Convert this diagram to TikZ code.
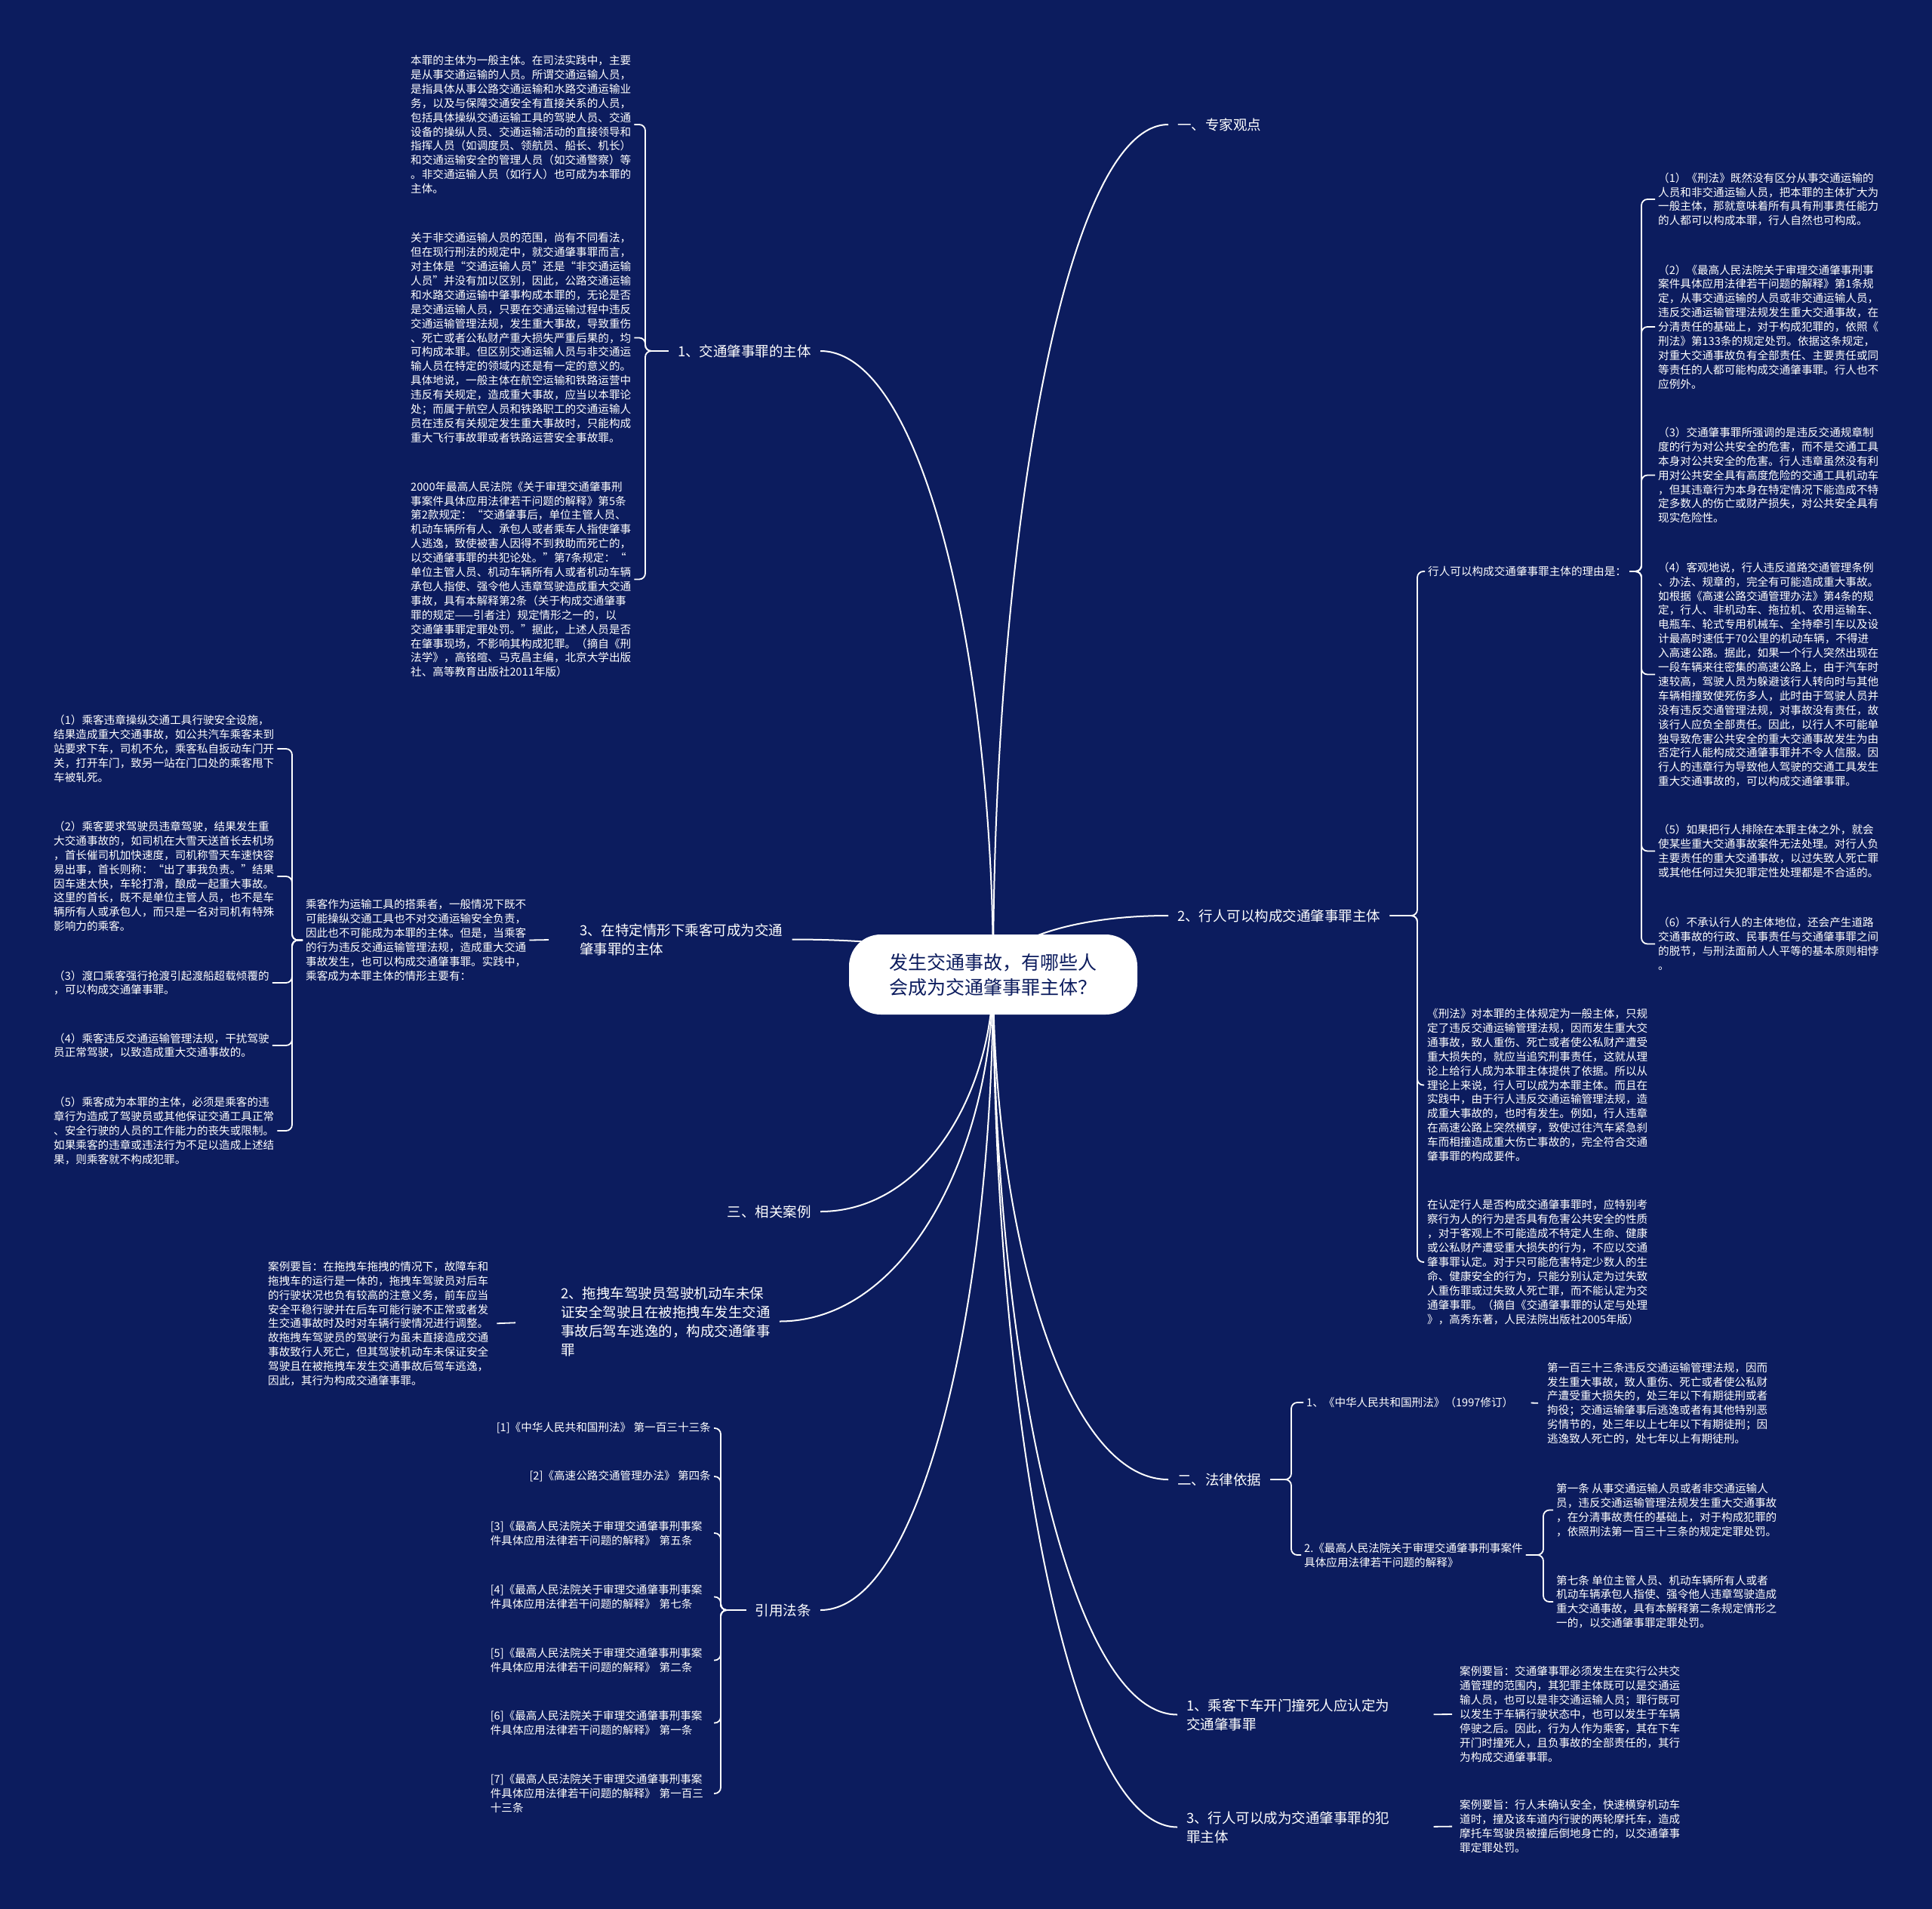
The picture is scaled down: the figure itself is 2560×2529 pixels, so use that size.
\documentclass[tikz,border=0pt]{standalone}
\usepackage{fontspec}
\setmainfont{Noto Sans CJK SC}
\usetikzlibrary{calc}
\definecolor{bgc}{RGB}{12,28,94}
\pgfdeclarelayer{back}
\pgfdeclarelayer{edges}
\pgfsetlayers{back,edges,main}
\tikzset{
  blk/.style={text=white, font=\fontsize{14.6}{18.9}\selectfont, align=left, inner xsep=4pt, inner ysep=2pt},
  brn/.style={text=white, font=\fontsize{18.5}{25}\selectfont, align=left, inner xsep=12pt, inner ysep=3pt},
  rootnode/.style={fill=white, rounded corners=42pt, minimum width=382pt, minimum height=106pt, text=bgc, font=\fontsize{25}{33}\selectfont, align=center},
  mainline/.style={draw=white, line width=2pt},
  brline/.style={draw=white, line width=1.8pt, rounded corners=8pt},
}
\newcommand\mainbr[1]{\draw[mainline] (root.center) .. controls ($(root.center)!0.5!(root.center |- #1)$) and ($(root.center |- #1)!0.4!(#1)$) .. (#1);}
\newcommand\mmbrk[3]{\draw[brline] (#1) -- (#1 -| #2) -- (#2 |- #3) -- (#3);}
\begin{document}
\begin{tikzpicture}[x=1pt,y=-1pt]
\begin{pgfonlayer}{back}
\fill[bgc] (0,0) rectangle (2560,2529);
\end{pgfonlayer}
\useasboundingbox (0,0) rectangle (2560,2529);

% root
\node[rootnode] (root) at (1316,1291) {发生交通事故，有哪些人\\会成为交通肇事罪主体？};

% ---------- left: 1、交通肇事罪的主体
\node[brn, anchor=east] (a1) at (1087,465) {1、交通肇事罪的主体};
\node[blk, anchor=west] (T1) at (540,165) {本罪的主体为一般主体。在司法实践中，主要\\是从事交通运输的人员。所谓交通运输人员，\\是指具体从事公路交通运输和水路交通运输业\\务，以及与保障交通安全有直接关系的人员，\\包括具体操纵交通运输工具的驾驶人员、交通\\设备的操纵人员、交通运输活动的直接领导和\\指挥人员（如调度员、领航员、船长、机长）\\和交通运输安全的管理人员（如交通警察）等\\。非交通运输人员（如行人）也可成为本罪的\\主体。};
\node[blk, anchor=west] (T2) at (540,447.5) {关于非交通运输人员的范围，尚有不同看法，\\但在现行刑法的规定中，就交通肇事罪而言，\\对主体是“交通运输人员”还是“非交通运输\\人员”并没有加以区别，因此，公路交通运输\\和水路交通运输中肇事构成本罪的，无论是否\\是交通运输人员，只要在交通运输过程中违反\\交通运输管理法规，发生重大事故，导致重伤\\、死亡或者公私财产重大损失严重后果的，均\\可构成本罪。但区别交通运输人员与非交通运\\输人员在特定的领域内还是有一定的意义的。\\具体地说，一般主体在航空运输和铁路运营中\\违反有关规定，造成重大事故，应当以本罪论\\处；而属于航空人员和铁路职工的交通运输人\\员在违反有关规定发生重大事故时，只能构成\\重大飞行事故罪或者铁路运营安全事故罪。};
\node[blk, anchor=west] (T3) at (540,767.5) {2000年最高人民法院《关于审理交通肇事刑\\事案件具体应用法律若干问题的解释》第5条\\第2款规定：“交通肇事后，单位主管人员、\\机动车辆所有人、承包人或者乘车人指使肇事\\人逃逸，致使被害人因得不到救助而死亡的，\\以交通肇事罪的共犯论处。”第7条规定：“\\单位主管人员、机动车辆所有人或者机动车辆\\承包人指使、强令他人违章驾驶造成重大交通\\事故，具有本解释第2条（关于构成交通肇事\\罪的规定——引者注）规定情形之一的，以\\交通肇事罪定罪处罚。”据此，上述人员是否\\在肇事现场，不影响其构成犯罪。（摘自《刑\\法学》，高铭暄、马克昌主编，北京大学出版\\社、高等教育出版社2011年版）};
\coordinate (xa1) at (855,0);

% ---------- left: 3、在特定情形下
\node[brn, anchor=west] (a2) at (756,1244.5) {3、在特定情形下乘客可成为交通\\肇事罪的主体};
\node[blk, anchor=west] (L0) at (401,1245.5) {乘客作为运输工具的搭乘者，一般情况下既不\\可能操纵交通工具也不对交通运输安全负责，\\因此也不可能成为本罪的主体。但是，当乘客\\的行为违反交通运输管理法规，造成重大交通\\事故发生，也可以构成交通肇事罪。实践中，\\乘客成为本罪主体的情形主要有：};
\node[blk, anchor=west] (L1) at (67,992) {（1）乘客违章操纵交通工具行驶安全设施，\\结果造成重大交通事故，如公共汽车乘客未到\\站要求下车，司机不允，乘客私自扳动车门开\\关，打开车门，致另一站在门口处的乘客甩下\\车被轧死。};
\node[blk, anchor=west] (L2) at (67,1161) {（2）乘客要求驾驶员违章驾驶，结果发生重\\大交通事故的，如司机在大雪天送首长去机场\\，首长催司机加快速度，司机称雪天车速快容\\易出事，首长则称：“出了事我负责。”结果\\因车速太快，车轮打滑，酿成一起重大事故。\\这里的首长，既不是单位主管人员，也不是车\\辆所有人或承包人，而只是一名对司机有特殊\\影响力的乘客。};
\node[blk, anchor=west] (L3) at (67,1302) {（3）渡口乘客强行抢渡引起渡船超载倾覆的\\，可以构成交通肇事罪。};
\node[blk, anchor=west] (L4) at (67,1385) {（4）乘客违反交通运输管理法规，干扰驾驶\\员正常驾驶，以致造成重大交通事故的。};
\node[blk, anchor=west] (L5) at (67,1498) {（5）乘客成为本罪的主体，必须是乘客的违\\章行为造成了驾驶员或其他保证交通工具正常\\、安全行驶的人员的工作能力的丧失或限制。\\如果乘客的违章或违法行为不足以造成上述结\\果，则乘客就不构成犯罪。};
\coordinate (xL) at (387,0);

% ---------- left: 三、相关案例 / 2、拖拽车
\node[brn, anchor=east] (a3) at (1087,1605) {三、相关案例};
\node[brn, anchor=west] (a4) at (731,1750.5) {2、拖拽车驾驶员驾驶机动车未保\\证安全驾驶且在被拖拽车发生交通\\事故后驾车逃逸的，构成交通肇事\\罪};
\node[blk, anchor=west] (C1) at (351,1753.5) {案例要旨：在拖拽车拖拽的情况下，故障车和\\拖拽车的运行是一体的，拖拽车驾驶员对后车\\的行驶状况也负有较高的注意义务，前车应当\\安全平稳行驶并在后车可能行驶不正常或者发\\生交通事故时及时对车辆行驶情况进行调整。\\故拖拽车驾驶员的驾驶行为虽未直接造成交通\\事故致行人死亡，但其驾驶机动车未保证安全\\驾驶且在被拖拽车发生交通事故后驾车逃逸，\\因此，其行为构成交通肇事罪。};

% ---------- left: 引用法条
\node[brn, anchor=east] (a5) at (1087,2133) {引用法条};
\node[blk, anchor=east] (c1) at (946,1892) {[1]《中华人民共和国刑法》 第一百三十三条};
\node[blk, anchor=east] (c2) at (946,1956) {[2]《高速公路交通管理办法》 第四条};
\node[blk, anchor=east, text width=292pt] (c3) at (946,2031) {[3]《最高人民法院关于审理交通肇事刑事案\\件具体应用法律若干问题的解释》 第五条};
\node[blk, anchor=east, text width=292pt] (c4) at (946,2115.5) {[4]《最高人民法院关于审理交通肇事刑事案\\件具体应用法律若干问题的解释》 第七条};
\node[blk, anchor=east, text width=292pt] (c5) at (946,2199.5) {[5]《最高人民法院关于审理交通肇事刑事案\\件具体应用法律若干问题的解释》 第二条};
\node[blk, anchor=east, text width=292pt] (c6) at (946,2282.5) {[6]《最高人民法院关于审理交通肇事刑事案\\件具体应用法律若干问题的解释》 第一条};
\node[blk, anchor=east, text width=292pt] (c7) at (946,2376) {[7]《最高人民法院关于审理交通肇事刑事案\\件具体应用法律若干问题的解释》 第一百三\\十三条};
\coordinate (xcit) at (955,0);

% ---------- right: 一、专家观点
\node[brn, anchor=west] (b1) at (1548,165) {一、专家观点};

% ---------- right: 2、行人可以构成交通肇事罪主体
\node[brn, anchor=west] (b2) at (1548,1213) {2、行人可以构成交通肇事罪主体};
\node[blk, anchor=west] (P) at (1888,757) {行人可以构成交通肇事罪主体的理由是：};
\node[blk, anchor=west] (R1) at (2193,264) {（1）《刑法》既然没有区分从事交通运输的\\人员和非交通运输人员，把本罪的主体扩大为\\一般主体，那就意味着所有具有刑事责任能力\\的人都可以构成本罪，行人自然也可构成。};
\node[blk, anchor=west] (R2) at (2193,433) {（2）《最高人民法院关于审理交通肇事刑事\\案件具体应用法律若干问题的解释》第1条规\\定，从事交通运输的人员或非交通运输人员，\\违反交通运输管理法规发生重大交通事故，在\\分清责任的基础上，对于构成犯罪的，依照《\\刑法》第133条的规定处罚。依据这条规定，\\对重大交通事故负有全部责任、主要责任或同\\等责任的人都可能构成交通肇事罪。行人也不\\应例外。};
\node[blk, anchor=west] (R3) at (2193,629.5) {（3）交通肇事罪所强调的是违反交通规章制\\度的行为对公共安全的危害，而不是交通工具\\本身对公共安全的危害。行人违章虽然没有利\\用对公共安全具有高度危险的交通工具机动车\\，但其违章行为本身在特定情况下能造成不特\\定多数人的伤亡或财产损失，对公共安全具有\\现实危险性。};
\node[blk, anchor=west] (R4) at (2193,893.5) {（4）客观地说，行人违反道路交通管理条例\\、办法、规章的，完全有可能造成重大事故。\\如根据《高速公路交通管理办法》第4条的规\\定，行人、非机动车、拖拉机、农用运输车、\\电瓶车、轮式专用机械车、全持牵引车以及设\\计最高时速低于70公里的机动车辆，不得进\\入高速公路。据此，如果一个行人突然出现在\\一段车辆来往密集的高速公路上，由于汽车时\\速较高，驾驶人员为躲避该行人转向时与其他\\车辆相撞致使死伤多人，此时由于驾驶人员并\\没有违反交通管理法规，对事故没有责任，故\\该行人应负全部责任。因此，以行人不可能单\\独导致危害公共安全的重大交通事故发生为由\\否定行人能构成交通肇事罪并不令人信服。因\\行人的违章行为导致他人驾驶的交通工具发生\\重大交通事故的，可以构成交通肇事罪。};
\node[blk, anchor=west] (R5) at (2193,1127.5) {（5）如果把行人排除在本罪主体之外，就会\\使某些重大交通事故案件无法处理。对行人负\\主要责任的重大交通事故，以过失致人死亡罪\\或其他任何过失犯罪定性处理都是不合适的。};
\node[blk, anchor=west] (R6) at (2193,1250.5) {（6）不承认行人的主体地位，还会产生道路\\交通事故的行政、民事责任与交通肇事罪之间\\的脱节，与刑法面前人人平等的基本原则相悖\\。};
\node[blk, anchor=west] (R7) at (1887,1437.5) {《刑法》对本罪的主体规定为一般主体，只规\\定了违反交通运输管理法规，因而发生重大交\\通事故，致人重伤、死亡或者使公私财产遭受\\重大损失的，就应当追究刑事责任，这就从理\\论上给行人成为本罪主体提供了依据。所以从\\理论上来说，行人可以成为本罪主体。而且在\\实践中，由于行人违反交通运输管理法规，造\\成重大事故的，也时有发生。例如，行人违章\\在高速公路上突然横穿，致使过往汽车紧急刹\\车而相撞造成重大伤亡事故的，完全符合交通\\肇事罪的构成要件。};
\node[blk, anchor=west] (R8) at (1887,1672) {在认定行人是否构成交通肇事罪时，应特别考\\察行为人的行为是否具有危害公共安全的性质\\，对于客观上不可能造成不特定人生命、健康\\或公私财产遭受重大损失的行为，不应以交通\\肇事罪认定。对于只可能危害特定少数人的生\\命、健康安全的行为，只能分别认定为过失致\\人重伤罪或过失致人死亡罪，而不能认定为交\\通肇事罪。（摘自《交通肇事罪的认定与处理\\》，高秀东著，人民法院出版社2005年版）};
\coordinate (xb2) at (1878,0);
\coordinate (xP) at (2175,0);

% ---------- right: 二、法律依据
\node[brn, anchor=west] (b3) at (1548,1960) {二、法律依据};
\node[blk, anchor=west] (m1) at (1727,1858) {1、《中华人民共和国刑法》（1997修订）};
\node[blk, anchor=west] (LB1) at (2046,1859) {第一百三十三条违反交通运输管理法规，因而\\发生重大事故，致人重伤、死亡或者使公私财\\产遭受重大损失的，处三年以下有期徒刑或者\\拘役；交通运输肇事后逃逸或者有其他特别恶\\劣情节的，处三年以上七年以下有期徒刑；因\\逃逸致人死亡的，处七年以上有期徒刑。};
\node[blk, anchor=west] (m2) at (1724,2060) {2.《最高人民法院关于审理交通肇事刑事案件\\具体应用法律若干问题的解释》};
\node[blk, anchor=west] (LB2) at (2058,2000.5) {第一条 从事交通运输人员或者非交通运输人\\员，违反交通运输管理法规发生重大交通事故\\，在分清事故责任的基础上，对于构成犯罪的\\，依照刑法第一百三十三条的规定定罪处罚。};
\node[blk, anchor=west] (LB3) at (2058,2122) {第七条 单位主管人员、机动车辆所有人或者\\机动车辆承包人指使、强令他人违章驾驶造成\\重大交通事故，具有本解释第二条规定情形之\\一的，以交通肇事罪定罪处罚。};
\coordinate (xb3) at (1711,0);
\coordinate (xm2) at (2045,0);

% ---------- right: cases
\node[brn, anchor=west] (b4) at (1560,2271.5) {1、乘客下车开门撞死人应认定为\\交通肇事罪};
\node[blk, anchor=west] (K1) at (1930,2271) {案例要旨：交通肇事罪必须发生在实行公共交\\通管理的范围内，其犯罪主体既可以是交通运\\输人员，也可以是非交通运输人员；罪行既可\\以发生于车辆行驶状态中，也可以发生于车辆\\停驶之后。因此，行为人作为乘客，其在下车\\开门时撞死人，且负事故的全部责任的，其行\\为构成交通肇事罪。};
\node[brn, anchor=west] (b5) at (1560,2420.5) {3、行人可以成为交通肇事罪的犯\\罪主体};
\node[blk, anchor=west] (K2) at (1930,2419.5) {案例要旨：行人未确认安全，快速横穿机动车\\道时，撞及该车道内行驶的两轮摩托车，造成\\摩托车驾驶员被撞后倒地身亡的，以交通肇事\\罪定罪处罚。};

\begin{pgfonlayer}{edges}
% main branches
\mainbr{b1.west}
\mainbr{b2.west}
\mainbr{b3.west}
\mainbr{b4.west}
\mainbr{b5.west}
\mainbr{a1.east}
\mainbr{a2.east}
\mainbr{a3.east}
\mainbr{a4.east}
\mainbr{a5.east}
% brackets
\mmbrk{T1.east}{xa1}{a1.west}
\mmbrk{T2.east}{xa1}{a1.west}
\mmbrk{T3.east}{xa1}{a1.west}
\mmbrk{L1.east}{xL}{L0.west}
\mmbrk{L2.east}{xL}{L0.west}
\mmbrk{L3.east}{xL}{L0.west}
\mmbrk{L4.east}{xL}{L0.west}
\mmbrk{L5.east}{xL}{L0.west}
\mmbrk{c1.east}{xcit}{a5.west}
\mmbrk{c2.east}{xcit}{a5.west}
\mmbrk{c3.east}{xcit}{a5.west}
\mmbrk{c4.east}{xcit}{a5.west}
\mmbrk{c5.east}{xcit}{a5.west}
\mmbrk{c6.east}{xcit}{a5.west}
\mmbrk{c7.east}{xcit}{a5.west}
\mmbrk{P.west}{xb2}{b2.east}
\mmbrk{R7.west}{xb2}{b2.east}
\mmbrk{R8.west}{xb2}{b2.east}
\mmbrk{R1.west}{xP}{P.east}
\mmbrk{R2.west}{xP}{P.east}
\mmbrk{R3.west}{xP}{P.east}
\mmbrk{R4.west}{xP}{P.east}
\mmbrk{R5.west}{xP}{P.east}
\mmbrk{R6.west}{xP}{P.east}
\mmbrk{m1.west}{xb3}{b3.east}
\mmbrk{m2.west}{xb3}{b3.east}
\mmbrk{LB2.west}{xm2}{m2.east}
\mmbrk{LB3.west}{xm2}{m2.east}
% single ticks
\draw[brline, shorten >=29pt] (L0.east) -- (a2.west);
\draw[brline, shorten <=7pt, shorten >=48pt] (C1.east) -- (a4.west);
\draw[brline, shorten <=19pt, shorten >=8pt] (m1.east) -- (LB1.west);
\draw[brline, shorten <=46pt, shorten >=6pt] (b4.east) -- (K1.west);
\draw[brline, shorten <=46pt, shorten >=6pt] (b5.east) -- (K2.west);
\end{pgfonlayer}
\end{tikzpicture}
\end{document}
